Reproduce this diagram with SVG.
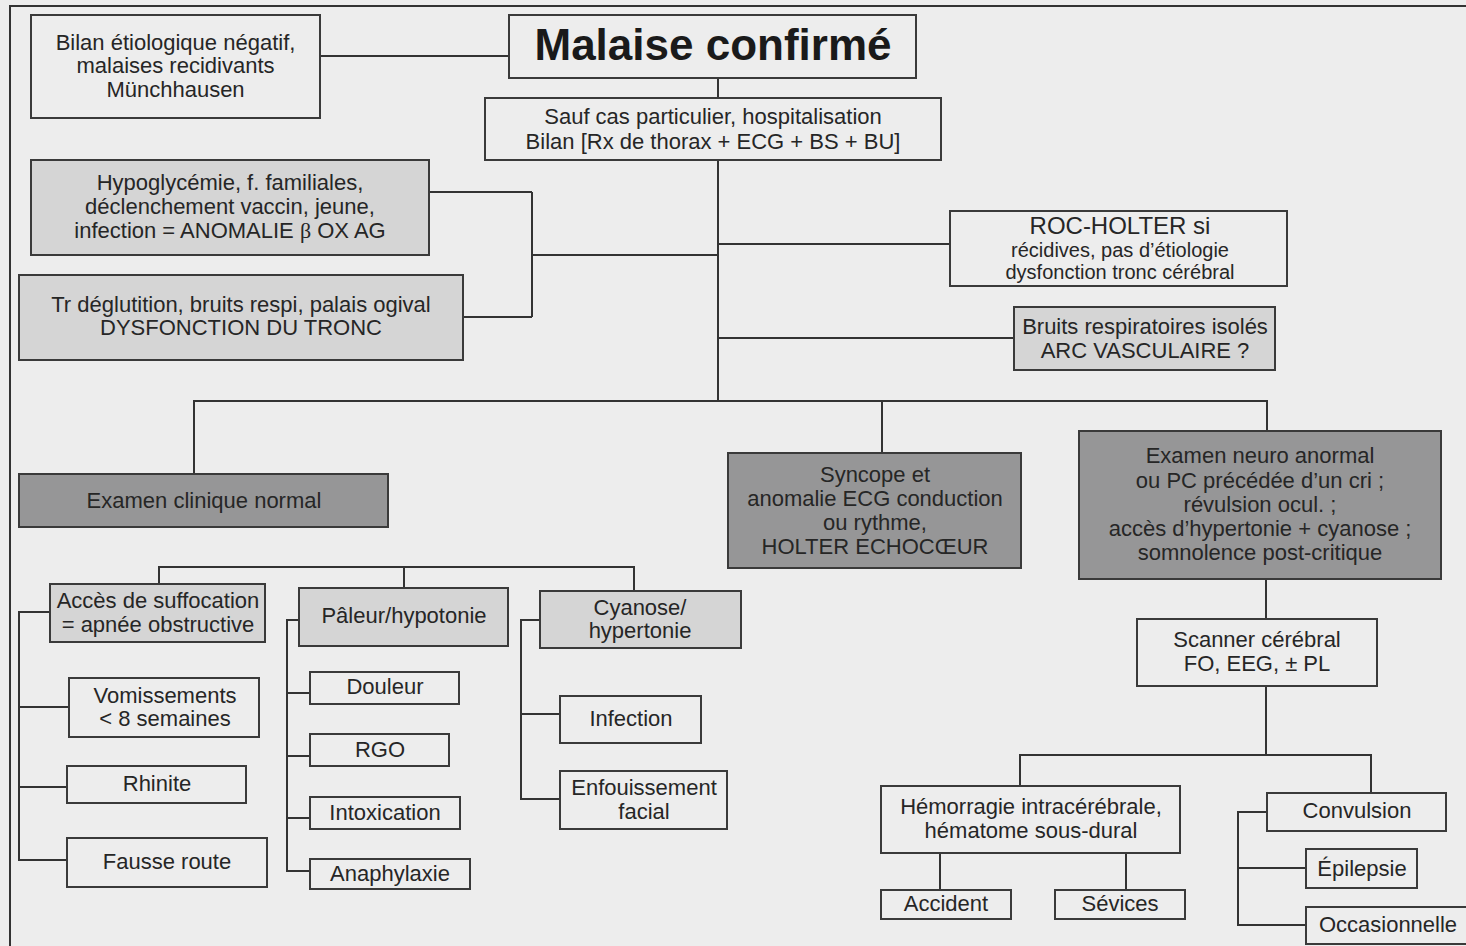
<svg xmlns="http://www.w3.org/2000/svg" width="1466" height="946" viewBox="0 0 1466 946">
<style>
.bg{fill:#ededed}
.box{fill:#ededed;stroke:#3a3a3a;stroke-width:2}
.lt{fill:#d5d5d5;stroke:#3a3a3a;stroke-width:2}
.dk{fill:#969697;stroke:#3a3a3a;stroke-width:2}
.ln{fill:none;stroke:#333;stroke-width:2}
text{font-family:"Liberation Sans",Arial,sans-serif;font-size:22px;fill:#262626;text-anchor:middle}
.big{font-size:44px;font-weight:bold;fill:#1a1a1a}
.md{font-size:24px}
.sm{font-size:20px}
.gr{font-family:"Liberation Serif","Times New Roman",serif}
</style>
<rect class="bg" x="0" y="0" width="1466" height="946"/>
<path class="ln" d="M10,946 V6 H1466" stroke-width="2.5"/>
<g id="connectors">
<path class="ln" d="M320,56 H509"/>
<path class="ln" d="M718,78 V98"/>
<path class="ln" d="M718,160 V401"/>
<path class="ln" d="M718,255 H532 M532,192 V317 M429,192 H532 M463,317 H532"/>
<path class="ln" d="M718,244 H950 M718,338 H1014"/>
<path class="ln" d="M194,474 V401 H1267 V431 M882,401 V453"/>
<path class="ln" d="M1266,579 V619"/>
<path class="ln" d="M1266,686 V755 M1020,786 V755 H1371 V793"/>
<path class="ln" d="M940,853 V890 M1126,853 V890"/>
<path class="ln" d="M1267,812 H1238 V925 H1306 M1238,868 H1306"/>
<path class="ln" d="M159,584 V567 H634 V591 M404,567 V588"/>
<path class="ln" d="M50,612 H19 V860 H67 M19,707 H69 M19,787 H67"/>
<path class="ln" d="M299,620 H287 V871 H310 M287,693 H310 M287,756 H310 M287,818 H310"/>
<path class="ln" d="M540,620 H521 V799 H560 M521,714 H560"/>
</g>
<g id="n-bilan"><rect class="box" x="31" y="15" width="289" height="103"/>
<text x="175.5" y="49.5">Bilan étiologique négatif,</text><text x="175.5" y="73">malaises recidivants</text><text x="175.5" y="97">Münchhausen</text></g>
<g id="n-malaise"><rect class="box" x="509" y="15" width="407" height="63"/>
<text class="big" x="713" y="60">Malaise confirmé</text></g>
<g id="n-sauf"><rect class="box" x="485" y="98" width="456" height="62"/>
<text x="713" y="124">Sauf cas particulier, hospitalisation</text><text x="713" y="149">Bilan [Rx de thorax + ECG + BS + BU]</text></g>
<g id="n-hypo"><rect class="lt" x="31" y="160" width="398" height="95"/>
<text x="230" y="190">Hypoglycémie, f. familiales,</text><text x="230" y="214">déclenchement vaccin, jeune,</text><text x="230" y="238">infection = ANOMALIE <tspan class="gr">β</tspan> OX AG</text></g>
<g id="n-tr"><rect class="lt" x="19" y="275" width="444" height="85"/>
<text x="241" y="312">Tr déglutition, bruits respi, palais ogival</text><text x="241" y="335">DYSFONCTION DU TRONC</text></g>
<g id="n-roc"><rect class="box" x="950" y="211" width="337" height="75"/>
<text class="md" x="1120" y="234">ROC-HOLTER si</text><text class="sm" x="1120" y="257">récidives, pas d’étiologie</text><text class="sm" x="1120" y="279">dysfonction tronc cérébral</text></g>
<g id="n-bruits"><rect class="lt" x="1014" y="307" width="261" height="63"/>
<text x="1145" y="334">Bruits respiratoires isolés</text><text x="1145" y="358">ARC VASCULAIRE ?</text></g>
<g id="n-examen"><rect class="dk" x="19" y="474" width="369" height="53"/>
<text x="204" y="508">Examen clinique normal</text></g>
<g id="n-syncope"><rect class="dk" x="728" y="453" width="293" height="115"/>
<text x="875" y="482">Syncope et</text><text x="875" y="506">anomalie ECG conduction</text><text x="875" y="530">ou rythme,</text><text x="875" y="554">HOLTER ECHOCŒUR</text></g>
<g id="n-neuro"><rect class="dk" x="1079" y="431" width="362" height="148"/>
<text x="1260" y="463">Examen neuro anormal</text><text x="1260" y="488">ou PC précédée d’un cri ;</text><text x="1260" y="512">révulsion ocul. ;</text><text x="1260" y="536">accès d’hypertonie + cyanose ;</text><text x="1260" y="560">somnolence post-critique</text></g>
<g id="n-acces"><rect class="lt" x="50" y="584" width="215" height="58"/>
<text x="158" y="608">Accès de suffocation</text><text x="158" y="632">= apnée obstructive</text></g>
<g id="n-vomis"><rect class="box" x="69" y="678" width="190" height="59"/>
<text x="165" y="703">Vomissements</text><text x="165" y="726">&lt; 8 semaines</text></g>
<g id="n-rhinite"><rect class="box" x="67" y="766" width="179" height="37"/>
<text x="157" y="791">Rhinite</text></g>
<g id="n-fausse"><rect class="box" x="67" y="838" width="200" height="49"/>
<text x="167" y="869">Fausse route</text></g>
<g id="n-paleur"><rect class="lt" x="299" y="588" width="209" height="58"/>
<text x="404" y="623">Pâleur/hypotonie</text></g>
<g id="n-douleur"><rect class="box" x="310" y="672" width="149" height="32"/>
<text x="385" y="694">Douleur</text></g>
<g id="n-rgo"><rect class="box" x="310" y="734" width="139" height="32"/>
<text x="380" y="757">RGO</text></g>
<g id="n-intox"><rect class="box" x="310" y="797" width="150" height="32"/>
<text x="385" y="820">Intoxication</text></g>
<g id="n-anaph"><rect class="box" x="310" y="859" width="160" height="30"/>
<text x="390" y="881">Anaphylaxie</text></g>
<g id="n-cyanose"><rect class="lt" x="540" y="591" width="201" height="57"/>
<text x="640" y="615">Cyanose/</text><text x="640" y="638">hypertonie</text></g>
<g id="n-infection"><rect class="box" x="560" y="696" width="141" height="47"/>
<text x="631" y="726">Infection</text></g>
<g id="n-enfouis"><rect class="box" x="560" y="771" width="167" height="58"/>
<text x="644" y="795">Enfouissement</text><text x="644" y="819">facial</text></g>
<g id="n-scanner"><rect class="box" x="1137" y="619" width="240" height="67"/>
<text x="1257" y="647">Scanner cérébral</text><text x="1257" y="671">FO, EEG, ± PL</text></g>
<g id="n-hemo"><rect class="box" x="881" y="786" width="299" height="67"/>
<text x="1031" y="814">Hémorragie intracérébrale,</text><text x="1031" y="838">hématome sous-dural</text></g>
<g id="n-accident"><rect class="box" x="881" y="890" width="130" height="29"/>
<text x="946" y="911">Accident</text></g>
<g id="n-sevices"><rect class="box" x="1055" y="890" width="130" height="29"/>
<text x="1120" y="911">Sévices</text></g>
<g id="n-convulsion"><rect class="box" x="1267" y="793" width="179" height="38"/>
<text x="1357" y="818">Convulsion</text></g>
<g id="n-epilepsie"><rect class="box" x="1306" y="849" width="111" height="39"/>
<text x="1362" y="876">Épilepsie</text></g>
<g id="n-occas"><rect class="box" x="1306" y="907" width="164" height="37"/>
<text x="1388" y="932">Occasionnelle</text></g>
</svg>
